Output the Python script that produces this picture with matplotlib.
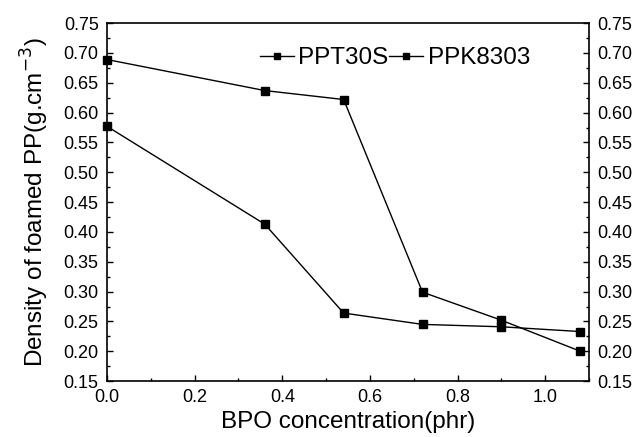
import matplotlib.pyplot as plt
from matplotlib.ticker import MultipleLocator

plt.rcParams['font.family'] = ['Liberation Sans', 'DejaVu Sans']

# BPO concentration (phr)
bpo = [0.0, 0.36, 0.54, 0.72, 0.90, 1.08]
# density of foamed PP (g/cm3)
ppt30s = [0.689, 0.637, 0.622, 0.299, 0.252, 0.200]
ppk8303 = [0.577, 0.413, 0.264, 0.245, 0.241, 0.233]

fig = plt.figure(figsize=(6.39, 4.37), dpi=100)
ax = fig.add_axes([0.1675, 0.128, 0.7543, 0.819])

ax.plot(bpo, ppt30s, 'k-s', lw=1.0, ms=6, label='PPT30S', clip_on=False, zorder=3)
ax.plot(bpo, ppk8303, 'k-s', lw=1.0, ms=6, label='PPK8303', clip_on=False, zorder=3)

ax.set_xlim(0, 1.1)
ax.set_ylim(0.15, 0.75)
ax.xaxis.set_major_locator(MultipleLocator(0.2))
ax.xaxis.set_minor_locator(MultipleLocator(0.1))
ax.yaxis.set_major_locator(MultipleLocator(0.05))
ax.yaxis.set_minor_locator(MultipleLocator(0.025))
ax.xaxis.set_major_formatter(plt.FormatStrFormatter('%.1f'))
ax.yaxis.set_major_formatter(plt.FormatStrFormatter('%.2f'))

for s in ax.spines.values():
    s.set_linewidth(1.2)

ax.tick_params(which='both', direction='in', right=True, labelright=True,
               labelsize=13, width=1.0)
ax.tick_params(which='major', length=4.5)
ax.tick_params(which='minor', length=2.5)
ax.tick_params(axis='x', pad=6)
ax.tick_params(axis='y', pad=6)

ax.set_xlabel('BPO concentration(phr)', fontsize=17.5, labelpad=3)
ax.set_ylabel('Density of foamed PP(g.cm$^{-3}$)', fontsize=17.5, labelpad=9)

ax.legend(loc='center', bbox_to_anchor=(0.597, 0.902), ncol=2, frameon=False,
          fontsize=17.5, handlelength=1.4, handletextpad=0.2, columnspacing=0.0,
          borderpad=0, markerscale=0.8)

fig.savefig('out.png', dpi=100)
